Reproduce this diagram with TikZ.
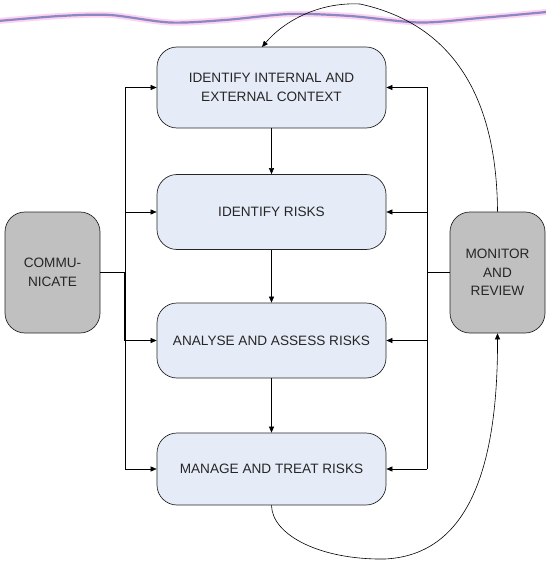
\documentclass[tikz,border=0pt]{standalone}
\usepackage{fontspec}
\setmainfont{Liberation Sans}
\usetikzlibrary{arrows.meta}
\definecolor{boxblue}{HTML}{E6ECF7}
\definecolor{boxgray}{HTML}{C0C0C0}
\definecolor{wavepink}{HTML}{FFD2F0}
\definecolor{waveblue}{HTML}{8888C4}
\begin{document}
\begin{tikzpicture}[x=1pt,y=-1pt,
  stepbox/.style={draw=black!85, line width=0.7pt, fill=boxblue, rounded corners=20pt,
    minimum width=229pt, align=center, inner sep=2pt,
    font=\fontsize{13.6}{19}\selectfont, text=black!85},
  sidebox/.style={draw=black!85, line width=0.7pt, fill=boxgray, rounded corners=20pt,
    minimum width=95pt, minimum height=121pt, align=center, inner sep=2pt,
    font=\fontsize{13.6}{18.5}\selectfont, text=black!85},
  arr/.style={-{Triangle[length=6pt,width=5pt]}, line width=0.6pt},
  ln/.style={line width=0.6pt}]
\useasboundingbox (0,0) rectangle (545,561);
% wave
\draw[wavepink, line width=6pt] plot[smooth] coordinates {(-2,21) (60,16) (110,15) (170,22.5) (225,20) (290,14) (350,16) (420,22.5) (480,18) (547,12)};
\draw[waveblue, line width=2.2pt] plot[smooth] coordinates {(-2,21) (60,16) (110,15) (170,22.5) (225,20) (290,14) (350,16) (420,22.5) (480,18) (547,12)};
% boxes
\node[stepbox, minimum height=81pt] (b1) at (271.5,87.5) {IDENTIFY INTERNAL AND\\EXTERNAL CONTEXT};
\node[stepbox, minimum height=75pt] (b2) at (271.5,212) {IDENTIFY RISKS};
\node[stepbox, minimum height=75pt] (b3) at (271.5,340.5) {ANALYSE AND ASSESS RISKS};
\node[stepbox, minimum height=72pt] (b4) at (271.5,469) {MANAGE AND TREAT RISKS};
\node[sidebox] (com) at (52.5,272.5) {COMMU-\\NICATE};
\node[sidebox] (mon) at (497.5,272.5) {MONITOR\\AND\\REVIEW};
% bus coordinates
\coordinate (l1) at (125,87.5);
\coordinate (l2) at (125,212);
\coordinate (l3) at (125,340.5);
\coordinate (l4) at (125,469);
\coordinate (lc) at (125,272.5);
\coordinate (r1) at (427,87.5);
\coordinate (r2) at (427,212);
\coordinate (r3) at (427,340.5);
\coordinate (r4) at (427,469);
\coordinate (rc) at (427,272.5);
% vertical flow
\draw[arr] (b1) -- (b2);
\draw[arr] (b2) -- (b3);
\draw[arr] (b3) -- (b4);
% left bus
\draw[ln] (l1) -- (l4);
\draw[ln] (com.east) -- (lc);
\draw[line width=1.1pt] (lc) -- (l3);
\draw[arr] (l1) -- (b1.west);
\draw[arr] (l2) -- (b2.west);
\draw[arr] (l3) -- (b3.west);
\draw[arr] (l4) -- (b4.west);
% right bus
\draw[ln] (r1) -- (r4);
\draw[ln] (mon.west) -- (rc);
\draw[arr] (r1) -- (b1.east);
\draw[arr] (r2) -- (b2.east);
\draw[arr] (r3) -- (b3.east);
\draw[arr] (r4) -- (b4.east);
% loops
\coordinate (top) at (360,4);
\coordinate (bot) at (385,559);
\draw[arr] (mon.north) .. controls (497,140) and (480,30) .. (top)
  .. controls (320,2) and (285,20) .. (262,47);
\draw[arr] (b4.south) .. controls (272,535) and (320,560) .. (bot)
  .. controls (465,555) and (498,475) .. (mon.south);
\end{tikzpicture}
\end{document}
